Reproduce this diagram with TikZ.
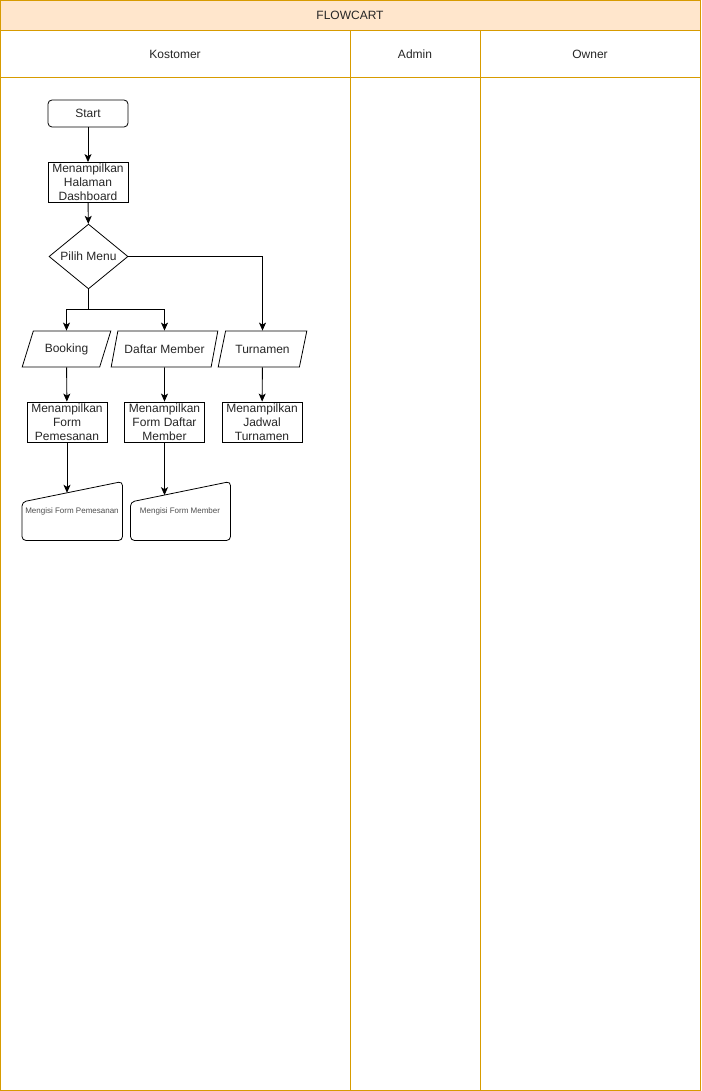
\documentclass[tikz,border=0pt]{standalone}
\usepackage{fontspec}
\setmainfont{Liberation Sans}
\usetikzlibrary{arrows.meta}
\usetikzlibrary{positioning}
\usetikzlibrary{shapes.geometric}
\definecolor{lane}{HTML}{D79B00}
\definecolor{peach}{HTML}{FFE6CC}
\definecolor{softgray}{HTML}{4D4D4D}
\tikzset{arr/.style = {-{Stealth[length=8pt, width=7pt, inset=2pt]}, line width=0.9pt}}
\tikzset{txt/.style = {font=\fontsize{12}{14}\selectfont, text=black!85, align=center}}
\tikzset{terminal/.style = {txt, draw, line width=0.8pt, rounded corners=4pt, minimum width=80pt, minimum height=27pt, inner sep=0}}
\tikzset{proc/.style = {txt, draw, line width=0.8pt, minimum width=80pt, minimum height=40pt, inner sep=0}}
\tikzset{choice/.style = {txt, draw, line width=0.8pt, diamond, minimum width=79pt, minimum height=63pt, inner sep=0}}
\tikzset{io/.style = {txt, draw, line width=0.8pt, trapezium, trapezium left angle=57, trapezium right angle=123,
                      trapezium stretches=true, minimum width=89pt, minimum height=36pt, inner sep=0}}
\tikzset{small/.style = {font=\fontsize{8}{10}\selectfont, text=softgray}}

\begin{document}
\begin{tikzpicture}[x=1pt, y=-1pt]
    \useasboundingbox (0, 0) rectangle (701, 1091);

    \draw [lane, fill=peach] (0.5, 0.5) rectangle (700.5, 30.5);
    \draw [lane] (0.5, 30.5) rectangle (700.5, 1090.5);
    \draw [lane] (0.5, 77.5) -- (700.5, 77.5);
    \draw [lane] (350.5, 30.5) -- (350.5, 1090.5);
    \draw [lane] (480.5, 30.5) -- (480.5, 1090.5);

    \node (judul) at (350, 15.5) [txt] {FLOWCART};
    \node (kostomer) at (175, 54) [txt] {Kostomer};
    \node (admin) at (415, 54) [txt] {Admin};
    \node (owner) at (590, 54) [txt] {Owner};

    \node (start) at (88, 113.5) [terminal] {Start};
    \node (dashboard) at (88, 182.5) [proc] {Menampilkan\\Halaman\\Dashboard};
    \node (pilih) at (88.5, 256.5) [choice] {Pilih Menu};

    \node (booking) at (66.5, 349) [io] {Booking};
    \node (daftar) at (164.5, 349) [io, minimum width=107pt] {Daftar Member};
    \node (turnamen) at (262.5, 349) [io] {Turnamen};

    \node (formpesan) at (67, 422) [proc] {Menampilkan\\Form\\Pemesanan};
    \node (formmember) at (164.5, 422) [proc] {Menampilkan\\Form Daftar\\Member};
    \node (jadwal) at (262, 422) [proc] {Menampilkan\\Jadwal\\Turnamen};

    \draw [line width=0.8pt, rounded corners=4pt] (22, 502) -- (122.5, 481.5) -- (122.5, 540.5) -- (22, 540.5) -- cycle;
    \draw [line width=0.8pt, rounded corners=4pt] (130.5, 502) -- (230.5, 481.5) -- (230.5, 540.5) -- (130.5, 540.5) -- cycle;
    \node (isipesan) at (72, 511.5) [small] {Mengisi Form Pemesanan};
    \node (isimember) at (180, 511.5) [small] {Mengisi Form Member};
    \coordinate (masukpesan) at (67, 492.8);
    \coordinate (masukmember) at (164.5, 495.2);
    \coordinate (cabang) at (88.5, 309.5);

    \draw [arr] (start) -- (dashboard);
    \draw [arr] (dashboard) -- (pilih);
    \draw [line width=0.9pt] (pilih.south) -- (cabang);
    \draw [arr] (cabang) -| (booking.north);
    \draw [arr] (cabang) -| (daftar.north);
    \draw [arr] (pilih.east) -| (turnamen.north);
    \draw [arr] (booking) -- (formpesan);
    \draw [arr] (daftar) -- (formmember);
    \draw [arr] (turnamen) -- (jadwal);
    \draw [arr] (formpesan) -- (masukpesan);
    \draw [arr] (formmember) -- (masukmember);
\end{tikzpicture}
\end{document}
